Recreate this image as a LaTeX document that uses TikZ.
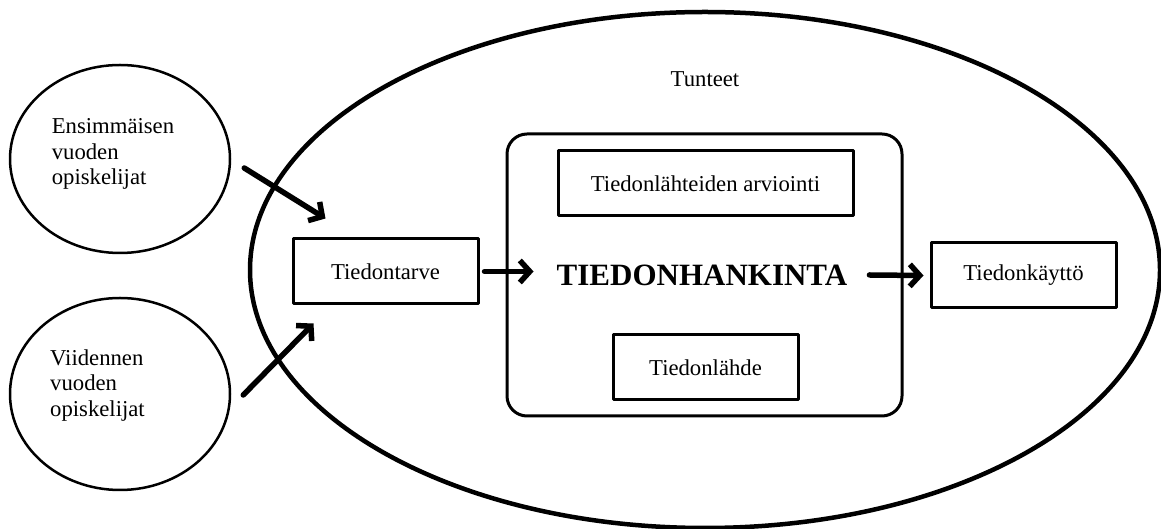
\documentclass[tikz,border=0pt]{standalone}
\usepackage{fontspec}
\setmainfont{Liberation Serif}
\usetikzlibrary{arrows.meta,shapes.geometric,positioning}
\begin{document}
\begin{tikzpicture}[x=1pt, y=1pt, font=\fontsize{22.7}{25.5}\selectfont, line join=round, line cap=round,
laatikko/.style={draw, line width=3pt, minimum width=185pt, minimum height=65pt, inner sep=0pt},
kupla/.style={draw, ellipse, line width=2.5pt, minimum width=220pt, minimum height=190pt},
nuoli/.style={line width=5.5pt, -{Straight Barb[length=10pt,width=22pt]}}]
\useasboundingbox (0,0) rectangle (1161,529);
\node[draw, ellipse, line width=4.5pt, minimum width=910pt, minimum height=516pt] (tunteet) at (705,259) {};
\node[anchor=base] (tunteetteksti) at (705,442) {Tunteet};
\node[draw, rounded corners=20pt, line width=3pt, minimum width=395pt, minimum height=282pt] (hankinta) at (704.5,254) {};
\node[font=\fontsize{31}{36}\selectfont\bfseries, inner sep=0pt] (otsikko) at (702,254) {TIEDONHANKINTA};
\node[laatikko, minimum width=295pt] (arviointi) at (705.5,345.5) {Tiedonlähteiden arviointi};
\node[laatikko] (lahde) at (705.5,161.5) {Tiedonlähde};
\node[laatikko] (tarve) at (385.5,257.5) {Tiedontarve};
\node[laatikko] (kaytto) at (1023.5,253.5) {Tiedonkäyttö};
\node[kupla, minimum height=188pt] (eka) at (120,370) {};
\node[kupla, minimum height=192pt] (viides) at (120,135) {};
\node[align=left] (ekateksti) at ([shift={(-7,4.6)}]eka.center) {Ensimmäisen\\vuoden\\opiskelijat};
\node[align=left] (viidesteksti) at ([shift={(-22.5,8.6)}]viides.center) {Viidennen\\vuoden\\opiskelijat};
\draw[nuoli] ([shift={(13,-9)}]eka.east) -- ([shift={(34,19)}]tarve.north west);
\draw[nuoli] ([shift={(12,-1)}]viides.east) -- ([shift={(22,-18)}]tarve.south west);
\draw[nuoli] ([xshift=5pt]tarve.east) -- ([xshift=-23pt]otsikko.west |- tarve.east);
\draw[nuoli] ([xshift=22pt]otsikko.east) -- ([xshift=-6pt]kaytto.west);
\end{tikzpicture}
\end{document}
